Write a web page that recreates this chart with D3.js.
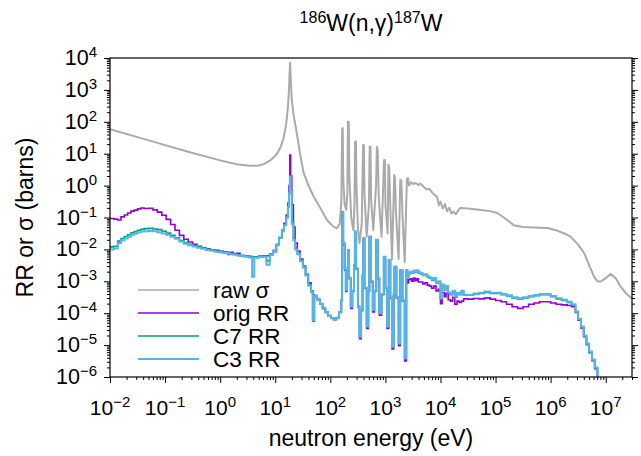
<!DOCTYPE html>
<html lang="en">
<head>
<meta charset="UTF-8">
<title>186W(n,g)187W</title>
<script src="https://d3js.org/d3.v7.min.js"></script>
<style>
    body { margin: 0; background: #fff; }
    text { font-family: Arial, "Liberation Sans", Helvetica, sans-serif; fill: #000; }
    .tick line { stroke: #000; }
</style>
</head>
<body>
<script>
    // all values are log10: energy in log10(eV), cross section / reaction rate in log10(barns)
    const rawLogE = [-2.00, -1.50, -1.00, -0.50, 0.00, 0.30, 0.50, 0.60, 0.70, 0.80, 0.90, 1.00, 1.05, 1.10, 1.15,
        1.20, 1.23, 1.25, 1.26, 1.27, 1.28, 1.30, 1.33, 1.36, 1.40, 1.45, 1.515, 1.60, 1.70, 1.80, 1.94, 2.05, 2.12,
        2.17, 2.20, 2.215, 2.225, 2.235, 2.26, 2.29, 2.31, 2.32, 2.335, 2.345, 2.38, 2.42, 2.44, 2.45, 2.465, 2.475,
        2.50, 2.53, 2.57, 2.595, 2.61, 2.62, 2.66, 2.70, 2.715, 2.73, 2.74, 2.78, 2.83, 2.845, 2.86, 2.88, 2.93,
        2.975, 2.99, 3.00, 3.04, 3.055, 3.07, 3.085, 3.12, 3.16, 3.175, 3.19, 3.24, 3.27, 3.29, 3.31, 3.35, 3.39,
        3.41, 3.43, 3.46, 3.50, 3.55, 3.60, 3.64, 3.70, 3.75, 3.80, 3.85, 3.90, 3.94, 3.97, 4.00, 4.04, 4.08, 4.12,
        4.16, 4.20, 4.24, 4.28, 4.32, 4.36, 4.50, 4.70, 4.90, 5.03, 5.15, 5.33, 5.50, 5.70, 5.94, 6.10, 6.25, 6.36,
        6.50, 6.61, 6.70, 6.79, 6.85, 6.91, 7.00, 7.09, 7.18, 7.27, 7.37, 7.48];
    const rawSigma = [1.77, 1.52, 1.27, 1.02, 0.79, 0.67, 0.63, 0.62, 0.63, 0.68, 0.78, 0.93, 1.05, 1.22, 1.48,
        1.95, 2.45, 3.00, 3.50, 3.85, 3.40, 2.70, 2.25, 1.96, 1.55, 1.00, 0.40, 0.02, -0.35, -0.65, -1.08, -1.28, -1.34,
        -1.20, -0.50, 1.80, 1.80, 0.20, -0.60, -0.76, -0.20, 2.00, 2.00, 0.30, -1.00, -1.40, -0.50, 1.38, 1.38, 0.00,
        -1.30, -1.80, -1.20, 1.27, 1.27, -0.30, -1.60, -0.60, 1.22, 1.22, -0.40, -1.40, 0.00, 1.22, 1.10, -0.40, -1.60,
        0.80, 0.80, -0.60, -1.50, 0.65, 0.55, -0.40, -2.30, 0.33, 0.25, -0.80, -2.30, 0.18, 0.15, -0.90, -2.40, 0.20,
        0.24, 0.00, 0.10, 0.05, 0.08, 0.02, 0.06, -0.05, -0.12, -0.10, -0.22, -0.30, -0.35, -0.62, -0.50, -0.72, -0.58, -0.80,
        -0.70, -0.87, -0.82, -0.90, -0.78, -0.70, -0.72, -0.76, -0.80, -0.86, -1.00, -1.24, -1.30, -1.31, -1.33, -1.40, -1.50, -1.60,
        -1.85, -2.12, -2.50, -2.86, -3.00, -3.01, -2.90, -2.77, -2.90, -3.17, -3.38, -3.55];

    // shared energy grid of the reaction-rate histograms
    const rrLogE = [-2.00, -1.93, -1.86, -1.80, -1.74, -1.68, -1.62, -1.56, -1.50, -1.44, -1.38, -1.30, -1.22, -1.14,
        -1.06, -0.98, -0.90, -0.82, -0.74, -0.66, -0.58, -0.50, -0.42, -0.34, -0.26, -0.18, -0.10, -0.02, 0.06, 0.14,
        0.18, 0.24, 0.30, 0.36, 0.44, 0.52, 0.58, 0.62, 0.70, 0.78, 0.84, 0.90, 0.96, 1.02, 1.07, 1.12, 1.16, 1.20,
        1.23, 1.25, 1.265, 1.28, 1.30, 1.33, 1.36, 1.40, 1.45, 1.50, 1.55, 1.60, 1.65, 1.68, 1.71, 1.76, 1.81, 1.86,
        1.91, 1.96, 2.01, 2.06, 2.11, 2.16, 2.20, 2.215, 2.235, 2.26, 2.28, 2.30, 2.32, 2.34, 2.37, 2.40, 2.43, 2.445,
        2.47, 2.50, 2.53, 2.56, 2.585, 2.60, 2.62, 2.66, 2.69, 2.71, 2.74, 2.77, 2.80, 2.835, 2.86, 2.89, 2.93, 2.97,
        3.00, 3.03, 3.06, 3.09, 3.12, 3.15, 3.165, 3.20, 3.24, 3.27, 3.31, 3.35, 3.38, 3.40, 3.42, 3.45, 3.48, 3.51,
        3.54, 3.57, 3.60, 3.64, 3.68, 3.72, 3.76, 3.80, 3.84, 3.88, 3.92, 3.96, 4.00, 4.03, 4.07, 4.10, 4.14, 4.18,
        4.22, 4.26, 4.30, 4.34, 4.38, 4.42, 4.50, 4.60, 4.70, 4.80, 4.90, 5.00, 5.10, 5.20, 5.30, 5.40, 5.50, 5.60,
        5.70, 5.80, 5.90, 6.00, 6.10, 6.20, 6.30, 6.38, 6.45, 6.50, 6.55, 6.60, 6.65, 6.70, 6.75, 6.80, 6.85, 6.90];
    const origRR = [-1.03, -1.05, -1.08, -0.98, -0.92, -0.86, -0.80, -0.77, -0.73, -0.70, -0.72, -0.71, -0.76, -0.83,
        -0.93, -1.06, -1.22, -1.40, -1.56, -1.68, -1.77, -1.84, -1.90, -1.95, -1.98, -2.01, -2.03, -2.06, -2.08, -2.16,
        -2.09, -2.14, -2.12, -2.19, -2.21, -2.24, -2.23, -2.24, -2.22, -2.20, -2.20, -2.17, -2.07, -1.86, -1.64, -1.40, -1.18, -0.92,
        -0.55, 0.00, 0.96, 0.30, -0.60, -1.30, -1.80, -2.05, -2.30, -2.52, -2.78, -3.05, -3.30, -3.42, -3.48, -3.58, -3.72, -3.86,
        -3.98, -4.08, -4.16, -4.20, -4.15, -3.98, -3.60, -0.85, -1.85, -2.65, -3.32, -2.62, -2.05, -2.92, -3.85, -3.32, -2.52, -1.46,
        -2.62, -3.82, -4.80, -3.92, -2.82, -1.67, -3.22, -4.48, -3.32, -1.62, -3.02, -3.96, -3.32, -1.72, -2.92, -4.06, -3.42, -2.25,
        -3.22, -4.48, -2.35, -3.52, -5.12, -3.42, -2.56, -3.52, -5.02, -2.67, -3.62, -5.50, -2.67, -3.05, -2.95, -2.92, -3.00, -2.90,
        -2.98, -2.92, -3.02, -3.02, -3.08, -3.05, -3.12, -3.15, -3.22, -3.15, -3.30, -3.25, -3.70, -3.35, -3.48, -3.38, -3.58, -3.62,
        -3.50, -3.72, -3.62, -3.66, -3.62, -3.55, -3.56, -3.54, -3.55, -3.52, -3.56, -3.60, -3.64, -3.72, -3.80, -3.85, -3.80, -3.72,
        -3.68, -3.64, -3.64, -3.68, -3.72, -3.74, -3.76, -3.80, -3.98, -4.22, -4.46, -4.74, -4.99, -5.24, -5.49, -5.74, -6.09, -6.44];
    const c7RR = [-1.92, -1.90, -1.74, -1.66, -1.60, -1.54, -1.48, -1.44, -1.40, -1.37, -1.35, -1.34, -1.36, -1.38,
        -1.43, -1.49, -1.56, -1.64, -1.72, -1.79, -1.84, -1.88, -1.92, -1.96, -1.99, -2.02, -2.05, -2.07, -2.09, -2.11,
        -2.13, -2.15, -2.17, -2.19, -2.20, -2.22, -2.23, -2.24, -2.22, -2.21, -2.36, -2.14, -2.03, -1.84, -1.62, -1.41, -1.22, -0.98,
        -0.65, -0.20, 0.30, -0.10, -1.10, -1.65, -1.95, -2.13, -2.35, -2.56, -2.80, -3.10, -3.30, -4.25, -3.45, -3.56, -3.70, -3.84,
        -3.96, -4.07, -4.15, -4.19, -4.14, -3.96, -3.58, -0.83, -1.82, -2.62, -3.25, -2.60, -2.02, -2.90, -3.78, -3.30, -2.50, -1.44,
        -2.60, -3.78, -4.72, -3.90, -2.80, -1.65, -3.20, -4.40, -3.30, -1.60, -3.00, -3.88, -3.30, -1.70, -2.90, -3.98, -3.40, -2.23,
        -3.20, -4.40, -2.33, -3.50, -5.02, -3.40, -2.54, -3.50, -4.92, -2.65, -3.60, -5.38, -2.65, -2.90, -2.76, -2.71, -2.74, -2.68,
        -2.72, -2.67, -2.74, -2.77, -2.82, -2.80, -2.86, -2.90, -2.97, -2.92, -3.07, -3.02, -3.55, -3.12, -3.27, -3.17, -3.37, -3.42,
        -3.32, -3.50, -3.38, -3.42, -3.32, -3.43, -3.43, -3.40, -3.38, -3.34, -3.38, -3.38, -3.42, -3.46, -3.52, -3.55, -3.52, -3.48,
        -3.45, -3.42, -3.42, -3.48, -3.55, -3.60, -3.66, -3.74, -3.96, -4.20, -4.44, -4.72, -4.97, -5.22, -5.47, -5.72, -6.07, -6.42];
    const c3RR = [-2.00, -1.97, -1.80, -1.72, -1.66, -1.60, -1.54, -1.50, -1.46, -1.44, -1.43, -1.42, -1.43, -1.46,
        -1.50, -1.54, -1.60, -1.67, -1.75, -1.82, -1.87, -1.91, -1.95, -1.98, -2.02, -2.04, -2.07, -2.09, -2.11, -2.13,
        -2.15, -2.17, -2.19, -2.21, -2.23, -2.25, -2.86, -2.26, -2.24, -2.23, -2.48, -2.16, -2.05, -1.86, -1.64, -1.43, -1.24, -1.00,
        -0.68, -0.24, 0.28, -0.15, -1.20, -1.71, -2.00, -2.15, -2.37, -2.57, -2.82, -3.14, -3.34, -4.21, -3.46, -3.57, -3.71, -3.85,
        -3.97, -4.08, -4.16, -4.20, -4.15, -3.97, -3.58, -0.82, -1.80, -2.60, -3.27, -2.60, -2.02, -2.90, -3.80, -3.30, -2.50, -1.44,
        -2.60, -3.80, -4.74, -3.90, -2.80, -1.65, -3.20, -4.42, -3.30, -1.60, -3.00, -3.90, -3.30, -1.70, -2.90, -4.00, -3.40, -2.23,
        -3.20, -4.42, -2.33, -3.50, -5.05, -3.40, -2.54, -3.50, -4.95, -2.65, -3.60, -5.41, -2.65, -2.90, -2.75, -2.70, -2.72, -2.66,
        -2.70, -2.65, -2.72, -2.75, -2.80, -2.78, -2.84, -2.88, -2.95, -2.90, -3.05, -3.00, -3.53, -3.10, -3.25, -3.15, -3.35, -3.40,
        -3.30, -3.48, -3.36, -3.40, -3.30, -3.42, -3.42, -3.38, -3.36, -3.32, -3.36, -3.36, -3.40, -3.44, -3.50, -3.53, -3.50, -3.46,
        -3.43, -3.40, -3.40, -3.46, -3.53, -3.58, -3.64, -3.72, -3.95, -4.18, -4.42, -4.70, -4.95, -5.20, -5.45, -5.70, -6.05, -6.40];

    const xTickExps = [-2, -1, 0, 1, 2, 3, 4, 5, 6, 7];
    const yTickExps = [-6, -5, -4, -3, -2, -1, 0, 1, 2, 3, 4];
    const legendLabels = ["raw \u03c3", "orig RR", "C7 RR", "C3 RR"];
    const seriesColors = ["#aaaaaa", "#9400d3", "#009e73", "#56b4e9"];

    const W = 641, H = 456;
    const plot = { left: 110, right: 632, top: 58, bottom: 377 };

    const svg = d3.select("body").append("svg").attr("width", W).attr("height", H);

    const x = d3.scaleLog().domain([1e-2, 3e7]).range([plot.left, plot.right]);
    const y = d3.scaleLog().domain([1e-6, 1e4]).range([plot.bottom, plot.top]);

    function minorTicks(scale) {
        const [lo, hi] = scale.domain();
        const out = [];
        for (let e = Math.floor(Math.log10(lo)); e <= Math.ceil(Math.log10(hi)); e++) {
            for (let m = 2; m < 10; m++) {
                const v = m * Math.pow(10, e);
                if (v >= lo && v <= hi) out.push(v);
            }
        }
        return out;
    }
    const expText = e => (e < 0 ? "\u2212" + (-e) : String(e));

    svg.append("clipPath").attr("id", "clip")
        .append("rect")
        .attr("x", plot.left).attr("y", plot.top)
        .attr("width", plot.right - plot.left).attr("height", plot.bottom - plot.top);

    // axes (ticks only, frame drawn separately)
    const gx = svg.append("g").attr("transform", `translate(0,${plot.bottom})`);
    gx.call(d3.axisBottom(x).tickValues(xTickExps.map(e => Math.pow(10, e))).tickSize(6).tickFormat(""));
    gx.append("g").call(d3.axisBottom(x).tickValues(minorTicks(x)).tickSize(3).tickFormat(""));

    const gyL = svg.append("g").attr("transform", `translate(${plot.left},0)`);
    gyL.call(d3.axisLeft(y).tickValues(yTickExps.map(e => Math.pow(10, e))).tickSize(6).tickFormat(""));
    gyL.append("g").call(d3.axisLeft(y).tickValues(minorTicks(y)).tickSize(3).tickFormat(""));

    const gyR = svg.append("g").attr("transform", `translate(${plot.right},0)`);
    gyR.call(d3.axisRight(y).tickValues(yTickExps.map(e => Math.pow(10, e))).tickSize(6).tickFormat(""));
    gyR.append("g").call(d3.axisRight(y).tickValues(minorTicks(y)).tickSize(3).tickFormat(""));

    svg.selectAll(".domain").remove();

    // tick labels with superscript exponents
    xTickExps.forEach(e => {
        const t = svg.append("text")
            .attr("x", x(Math.pow(10, e))).attr("y", 415)
            .attr("text-anchor", "middle").attr("font-size", 21);
        t.append("tspan").text("10");
        t.append("tspan").attr("dy", -8).attr("font-size", 15).text(expText(e));
    });
    yTickExps.forEach(e => {
        const t = svg.append("text")
            .attr("x", 97).attr("y", y(Math.pow(10, e)) + 7)
            .attr("text-anchor", "end").attr("font-size", 21.5);
        t.append("tspan").text("10");
        t.append("tspan").attr("dy", -8).attr("font-size", 15).text(expText(e));
    });

    // data
    const rawPts = rawLogE.map((e, i) => [Math.pow(10, e), Math.pow(10, rawSigma[i])]);
    const rrSeries = [origRR, c7RR, c3RR].map(arr => rrLogE.map((e, i) => [Math.pow(10, e), Math.pow(10, arr[i])]));

    const lineRaw = d3.line().x(d => x(d[0])).y(d => y(d[1]));
    const lineStep = d3.line().x(d => x(d[0])).y(d => y(d[1])).curve(d3.curveStepAfter);

    const g = svg.append("g").attr("clip-path", "url(#clip)");
    g.append("path").datum(rawPts)
        .attr("fill", "none").attr("stroke", seriesColors[0]).attr("stroke-width", 2)
        .attr("stroke-linejoin", "round")
        .attr("d", lineRaw);
    rrSeries.forEach((pts, i) => {
        g.append("path").datum(pts)
            .attr("fill", "none").attr("stroke", seriesColors[i + 1])
            .attr("stroke-width", i === 2 ? 2 : 1.6)
            .attr("d", lineStep);
    });

    // frame
    svg.append("rect")
        .attr("x", plot.left).attr("y", plot.top)
        .attr("width", plot.right - plot.left).attr("height", plot.bottom - plot.top)
        .attr("fill", "none").attr("stroke", "#000").attr("stroke-width", 1.2);

    // legend
    legendLabels.forEach((lab, i) => {
        const ly = 290 + i * 23;
        svg.append("line")
            .attr("x1", 138).attr("x2", 199).attr("y1", ly).attr("y2", ly)
            .attr("stroke", seriesColors[i]).attr("stroke-width", i === 3 ? 2 : 1.6);
        svg.append("text").attr("x", 213).attr("y", ly + 7.5).attr("font-size", 22.5).text(lab);
    });

    // axis titles
    svg.append("text")
        .attr("x", (plot.left + plot.right) / 2).attr("y", 446)
        .attr("text-anchor", "middle").attr("font-size", 23)
        .text("neutron energy (eV)");
    svg.append("text")
        .attr("transform", `translate(33,${(plot.top + plot.bottom) / 2}) rotate(-90)`)
        .attr("text-anchor", "middle").attr("font-size", 23)
        .text("RR or \u03c3 (barns)");

    // title
    const title = svg.append("text")
        .attr("x", (plot.left + plot.right) / 2).attr("y", 31)
        .attr("text-anchor", "middle").attr("font-size", 23);
    title.append("tspan").attr("dy", -8).attr("font-size", 16).text("186");
    title.append("tspan").attr("dy", 8).text("W(n,\u03b3)");
    title.append("tspan").attr("dy", -8).attr("font-size", 16).text("187");
    title.append("tspan").attr("dy", 8).text("W");
</script>
</body>
</html>
